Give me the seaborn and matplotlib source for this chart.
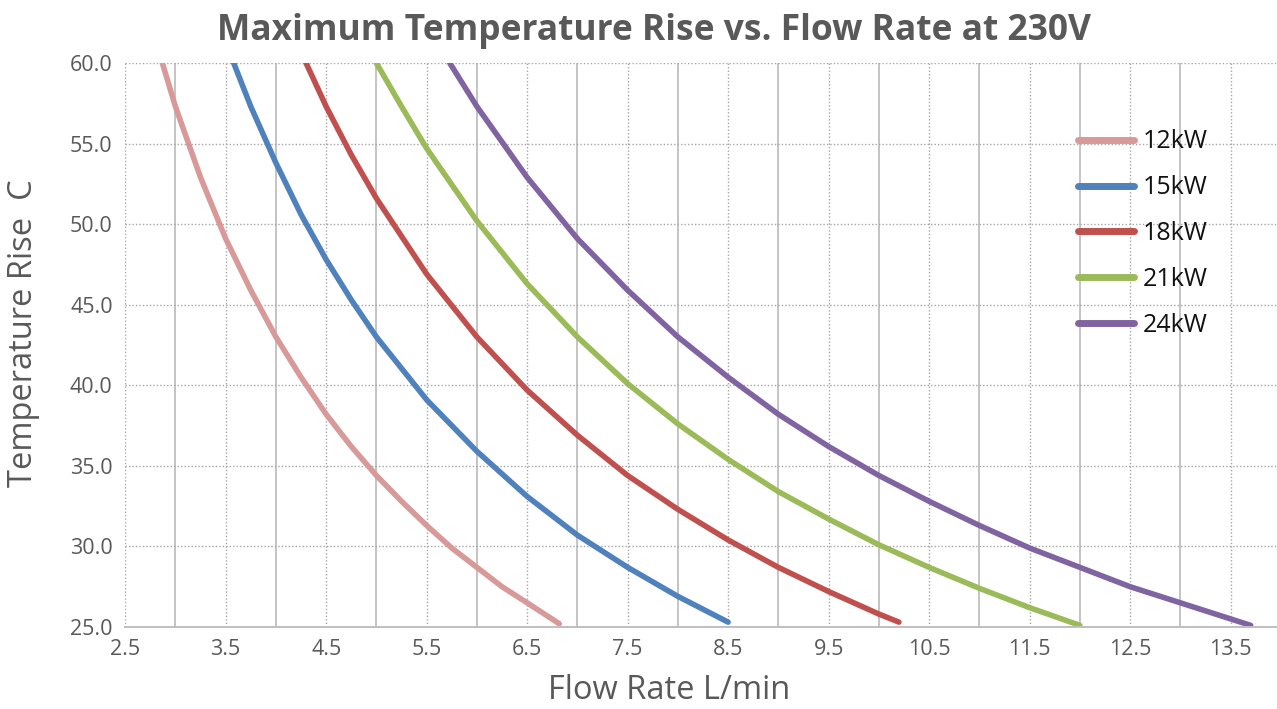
import numpy as np
import pandas as pd
import matplotlib
matplotlib.use('Agg')
import matplotlib.pyplot as plt
import seaborn as sns
from matplotlib.ticker import MultipleLocator

# ============ 数据 ============
flow_12 = [2.87, 3.0, 3.25, 3.5, 3.75, 4.0, 4.25, 4.5, 4.75, 5.0, 5.25, 5.5, 5.75, 6.0, 6.25, 6.5, 6.82]
rise_12 = [60.0, 57.3, 52.9, 49.1, 45.9, 43.0, 40.5, 38.2, 36.2, 34.4, 32.8, 31.3, 29.9, 28.7, 27.5, 26.5, 25.2]

flow_15 = [3.58, 3.75, 4.0, 4.25, 4.5, 4.75, 5.0, 5.5, 6.0, 6.5, 7.0, 7.5, 8.0, 8.5]
rise_15 = [60.0, 57.3, 53.8, 50.6, 47.8, 45.3, 43.0, 39.1, 35.9, 33.1, 30.7, 28.7, 26.9, 25.3]

flow_18 = [4.3, 4.5, 4.75, 5.0, 5.5, 6.0, 6.5, 7.0, 7.5, 8.0, 8.5, 9.0, 9.5, 10.0, 10.2]
rise_18 = [60.0, 57.3, 54.3, 51.6, 46.9, 43.0, 39.7, 36.9, 34.4, 32.3, 30.4, 28.7, 27.2, 25.8, 25.3]

flow_21 = [5.0, 5.25, 5.5, 6.0, 6.5, 7.0, 7.5, 8.0, 8.5, 9.0, 9.5, 10.0, 10.5, 11.0, 11.5, 12.0]
rise_21 = [60.0, 57.3, 54.7, 50.2, 46.3, 43.0, 40.1, 37.6, 35.4, 33.4, 31.7, 30.1, 28.7, 27.4, 26.2, 25.1]

flow_24 = [5.73, 6.0, 6.5, 7.0, 7.5, 8.0, 8.5, 9.0, 9.5, 10.0, 10.5, 11.0, 11.5, 12.0, 12.5, 13.0, 13.5, 13.7]
rise_24 = [60.0, 57.3, 52.9, 49.1, 45.9, 43.0, 40.5, 38.2, 36.2, 34.4, 32.8, 31.3, 29.9, 28.7, 27.5, 26.5, 25.5, 25.1]

series_names = ['12kW', '15kW', '18kW', '21kW', '24kW']
colors = ['#D79A98', '#4F81BD', '#C0504D', '#9BBB59', '#8064A2']

flows = [flow_12, flow_15, flow_18, flow_21, flow_24]
rises = [rise_12, rise_15, rise_18, rise_21, rise_24]

df = pd.concat([
    pd.DataFrame({'flow': f, 'rise': r, 'power': name})
    for f, r, name in zip(flows, rises, series_names)
], ignore_index=True)

# ============ 绘图 ============
sns.set_theme(style='white')
plt.rcParams['font.family'] = ['Open Sans', 'DejaVu Sans']

fig = plt.figure(figsize=(12.77, 7.09), dpi=100)
ax = fig.add_axes([0.098, 0.1157, 0.905, 0.7955])

sns.lineplot(data=df, x='flow', y='rise', hue='power', palette=colors,
             sort=False, estimator=None, linewidth=4.0, ax=ax,
             solid_capstyle='round')

ax.set_xlim(2.5, 14.0)
ax.set_ylim(25, 60)
ax.set_xticks(np.arange(2.5, 14.0, 1.0))
ax.set_xticks(np.arange(3.0, 14.5, 1.0), minor=True)
ax.yaxis.set_major_locator(MultipleLocator(5))
ax.yaxis.set_major_formatter(matplotlib.ticker.FormatStrFormatter('%.1f'))

ax.grid(which='major', axis='both', color='#A6A6A6', linestyle=(0, (1, 1.5)), linewidth=1.0)
ax.grid(which='minor', axis='x', color='#C4C4C4', linestyle='-', linewidth=1.4)
ax.set_axisbelow(True)

for s in ['top', 'right', 'left']:
    ax.spines[s].set_visible(False)
ax.spines['bottom'].set_color('#BFBFBF')
ax.spines['bottom'].set_linewidth(1.4)

ax.tick_params(axis='both', which='both', length=0, labelsize=15.5, colors='#595959', pad=9)

ax.set_xlabel('Flow Rate L/min', fontsize=23.5, color='#595959', va='center')
ax.set_ylabel('Temperature Rise  C', fontsize=23.5, color='#595959', va='center')
ax.xaxis.set_label_coords(0.471, -0.112)
ax.yaxis.set_label_coords(-0.088, 0.52)

fig.suptitle('Maximum Temperature Rise vs. Flow Rate at 230V', x=0.512, y=0.982,
             fontsize=25.5, fontweight='bold', color='#595959')

leg = ax.legend(loc='upper left', bbox_to_anchor=(1055 / 1277, 1 - 107 / 709),
                bbox_transform=fig.transFigure, frameon=False, fontsize=18,
                handlelength=2.25, labelspacing=0.83, handletextpad=0.36)
for text in leg.get_texts():
    text.set_color('#111111')
for line in leg.get_lines():
    line.set_linewidth(5)
    line.set_solid_capstyle('round')

fig.savefig('out.png', dpi=100)
